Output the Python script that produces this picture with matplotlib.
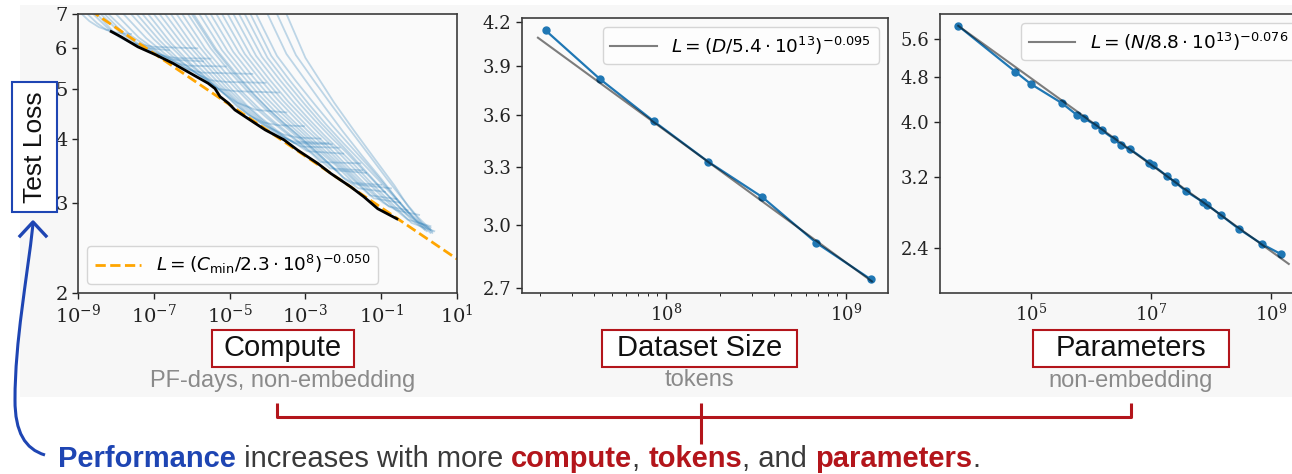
import numpy as np
import matplotlib as mpl
mpl.use('Agg')
import matplotlib.pyplot as plt
from matplotlib import patches, ticker
from matplotlib.path import Path
from matplotlib.text import Annotation

plt.rc('font', family='DejaVu Serif', size=13)
plt.rc('mathtext', fontset='dejavusans')

W, H = 1292, 474
BLUE = '#1f77b4'
RED = '#b3151b'
NAVY = '#1e45b3'
SANS = 'Liberation Sans'

# ---- Compute panel: learning curves (log10 PF-days, test loss) ----
curves_logc = [
    [-8.9, -8.7, -8.45, -8.2],
    [-8.75, -8.5, -8.25, -8.0, -7.6],
    [-8.6, -8.2, -7.9, -7.6, -7.0, -5.85],
    [-8.5, -8.1, -7.7, -7.3, -6.6],
    [-8.4, -7.9, -7.4, -7.0, -6.6, -6.36, -5.5],
    [-8.3, -7.8, -7.3, -6.9, -6.5, -5.7],
    [-8.2, -7.6, -7.1, -6.7, -6.35, -6.1, -5.1],
    [-8.0, -7.4, -6.9, -6.5, -6.1, -5.75, -4.4],
    [-7.8, -7.2, -6.7, -6.2, -5.8, -5.5, -5.1, -4.05],
    [-7.6, -7.0, -6.5, -6.0, -5.6, -5.3, -4.85, -3.7],
    [-7.45, -6.85, -6.35, -5.9, -5.5, -5.15, -4.8, -4.3, -3.5],
    [-7.3, -6.7, -6.2, -5.7, -5.3, -4.9, -4.5, -4.1, -3.74, -3.04],
    [-7.15, -6.55, -6.05, -5.6, -5.2, -4.8, -4.4, -4.0, -3.6, -3.2, -2.6],
    [-7.0, -6.4, -5.9, -5.4, -5.0, -4.6, -4.2, -3.8, -3.6, -3.3, -2.4],
    [-6.85, -6.25, -5.75, -5.25, -4.85, -4.45, -4.05, -3.65, -3.3, -2.3],
    [-6.7, -6.1, -5.6, -5.1, -4.7, -4.3, -3.9, -3.5, -3.1, -2.1],
    [-6.55, -5.95, -5.45, -4.95, -4.55, -4.15, -3.75, -3.35, -2.95, -2.0],
    [-6.4, -5.8, -5.3, -4.8, -4.4, -4.0, -3.6, -3.2, -2.8, -2.6, -1.55],
    [-6.25, -5.65, -5.15, -4.65, -4.25, -3.85, -3.45, -3.05, -2.65, -2.35, -1.5],
    [-6.1, -5.5, -5.0, -4.5, -4.1, -3.7, -3.3, -2.9, -2.5, -2.2, -1.4],
    [-6.0, -5.4, -4.9, -4.4, -4.0, -3.6, -3.2, -2.8, -2.4, -2.0, -1.75, -1.0],
    [-5.95, -5.35, -4.85, -4.35, -3.95, -3.55, -3.15, -2.75, -2.35, -1.95, -1.6, -0.9],
    [-5.8, -5.2, -4.7, -4.2, -3.8, -3.4, -3.0, -2.6, -2.2, -1.7, -0.74],
    [-5.65, -5.05, -4.55, -4.05, -3.65, -3.25, -2.85, -2.45, -2.05, -1.65, -1.3, -0.6],
    [-5.5, -4.9, -4.4, -3.9, -3.5, -3.1, -2.7, -2.3, -1.9, -1.5, -1.2, -0.5],
    [-5.35, -4.75, -4.25, -3.75, -3.35, -2.95, -2.55, -2.15, -1.75, -1.35, -0.95, -0.6, 0.0],
    [-5.2, -4.6, -4.1, -3.6, -3.2, -2.8, -2.4, -2.0, -1.6, -1.2, -0.8, -0.3],
    [-5.05, -4.45, -3.95, -3.45, -3.05, -2.65, -2.25, -1.85, -1.45, -1.05, -0.65, -0.3, 0.3],
    [-4.9, -4.3, -3.8, -3.3, -2.9, -2.5, -2.1, -1.7, -1.3, -0.9, -0.5, -0.2, 0.4],
    [-4.75, -4.15, -3.65, -3.15, -2.75, -2.35, -1.95, -1.55, -1.15, -0.75, -0.35, 0.0, 0.3],
    [-4.6, -4.0, -3.5, -3.0, -2.6, -2.2, -1.8, -1.4, -1.0, -0.6, -0.2, 0.2],
    [-4.45, -3.9, -3.4, -2.9, -2.45, -2.0, -1.55, -1.1, -0.7, -0.3, 0.1, 0.35],
    [-4.3, -3.75, -3.25, -2.75, -2.3, -1.85, -1.4, -0.95, -0.5, -0.1, 0.3],
    [-4.0, -3.5, -3.0, -2.5, -2.0, -1.5, -1.0, -0.6, -0.2, 0.15],
    [-3.75, -3.25, -2.8, -2.3, -1.8, -1.3, -0.85, -0.45, -0.05, 0.3],
    [-3.5, -3.0, -2.75, -2.24, -1.71, -1.18, -0.65, -0.29, 0.1, 0.35],
]
curves_loss = [
    [7.0, 6.78, 6.6, 6.5],
    [7.0, 6.72, 6.52, 6.44, 6.40],
    [7.0, 6.55, 6.30, 6.15, 6.04, 6.0],
    [7.0, 6.5, 6.2, 6.02, 5.95],
    [7.0, 6.45, 6.08, 5.88, 5.77, 5.74, 5.73],
    [7.0, 6.42, 6.05, 5.85, 5.7, 5.66],
    [7.0, 6.35, 6.0, 5.76, 5.6, 5.55, 5.53],
    [7.0, 6.3, 5.92, 5.66, 5.46, 5.38, 5.35],
    [7.0, 6.28, 5.85, 5.52, 5.32, 5.2, 5.16, 5.14],
    [7.0, 6.25, 5.78, 5.45, 5.2, 5.0, 4.95, 4.92],
    [7.0, 6.22, 5.72, 5.38, 5.12, 4.9, 4.7, 4.55, 4.5],
    [7.0, 6.2, 5.7, 5.3, 5.0, 4.72, 4.45, 4.3, 4.25, 4.23],
    [7.0, 6.15, 5.62, 5.25, 4.95, 4.62, 4.4, 4.22, 4.08, 4.02, 4.0],
    [7.0, 6.15, 5.6, 5.15, 4.85, 4.55, 4.3, 4.1, 4.02, 3.95, 3.92],
    [7.0, 6.12, 5.58, 5.1, 4.78, 4.5, 4.26, 4.06, 3.92, 3.9],
    [7.0, 6.1, 5.55, 5.05, 4.72, 4.45, 4.2, 4.0, 3.86, 3.84],
    [7.0, 6.05, 5.5, 5.0, 4.65, 4.38, 4.15, 3.95, 3.78, 3.74],
    [7.0, 6.05, 5.45, 4.98, 4.65, 4.38, 4.15, 3.94, 3.72, 3.6, 3.58],
    [7.0, 6.0, 5.42, 4.92, 4.6, 4.33, 4.1, 3.88, 3.66, 3.5, 3.47],
    [7.0, 6.0, 5.4, 4.92, 4.6, 4.32, 4.08, 3.85, 3.62, 3.47, 3.43],
    [7.0, 5.98, 5.38, 4.9, 4.58, 4.3, 4.06, 3.82, 3.59, 3.36, 3.28, 3.25],
    [7.0, 5.97, 5.38, 4.88, 4.55, 4.28, 4.04, 3.8, 3.56, 3.33, 3.2, 3.15],
    [7.0, 5.95, 5.35, 4.85, 4.52, 4.25, 4.0, 3.76, 3.55, 3.26, 3.2],
    [7.0, 5.92, 5.32, 4.82, 4.5, 4.22, 3.96, 3.72, 3.5, 3.28, 3.1, 3.05],
    [7.0, 5.9, 5.3, 4.8, 4.46, 4.18, 3.92, 3.68, 3.45, 3.22, 3.06, 3.0],
    [7.0, 5.88, 5.28, 4.78, 4.45, 4.15, 3.9, 3.64, 3.4, 3.18, 3.0, 2.9, 2.84],
    [7.0, 5.85, 5.25, 4.75, 4.42, 4.12, 3.86, 3.6, 3.36, 3.14, 2.95, 2.9],
    [7.0, 5.82, 5.22, 4.72, 4.4, 4.1, 3.84, 3.58, 3.34, 3.12, 2.92, 2.78, 2.7],
    [7.0, 5.8, 5.2, 4.7, 4.36, 4.06, 3.8, 3.55, 3.3, 3.08, 2.88, 2.74, 2.64],
    [7.0, 5.78, 5.18, 4.68, 4.34, 4.04, 3.78, 3.52, 3.28, 3.06, 2.86, 2.74, 2.68],
    [7.0, 5.75, 5.15, 4.65, 4.3, 4.0, 3.72, 3.45, 3.2, 2.98, 2.78, 2.64],
    [7.0, 5.8, 5.18, 4.66, 4.26, 3.92, 3.62, 3.34, 3.1, 2.88, 2.72, 2.62],
    [7.0, 5.8, 5.18, 4.66, 4.25, 3.9, 3.58, 3.28, 3.0, 2.78, 2.62],
    [7.0, 5.85, 5.2, 4.62, 4.12, 3.7, 3.34, 3.06, 2.82, 2.66],
    [7.0, 5.82, 5.22, 4.64, 4.14, 3.7, 3.34, 3.06, 2.82, 2.66],
    [7.0, 5.75, 5.38, 4.7, 4.14, 3.66, 3.24, 2.95, 2.72, 2.64],
]

# compute-efficient frontier (black)
frontier_c = [7.5e-9, 1.36e-8, 3.8e-8, 1.17e-7, 3.2e-7, 7.9e-7, 2.7e-6, 4.1e-6,
              5.6e-6, 9.3e-6, 1.38e-5, 4.4e-5, 8.7e-5, 2.7e-4, 6.2e-4, 2.1e-3,
              4.7e-3, 1.58e-2, 3.5e-2, 8.1e-2, 0.26]
frontier_loss = [6.47, 6.32, 6.04, 5.82, 5.61, 5.40, 5.13, 5.01, 4.83, 4.69,
                 4.55, 4.30, 4.16, 3.98, 3.80, 3.58, 3.42, 3.22, 3.08, 2.92, 2.79]

# power-law fit endpoints
fit_c = [1e-9, 1e1]
fit_c_loss = [7.39, 2.33]

# ---- Dataset size panel ----
tokens = [2.15e7, 4.3e7, 8.6e7, 1.72e8, 3.44e8, 6.88e8, 1.376e9]
loss_tokens = [4.14, 3.82, 3.56, 3.33, 3.14, 2.91, 2.74]
fit_d = [1.95e7, 1.4e9]
fit_d_loss = [4.09, 2.73]

# ---- Parameters panel ----
params = [6.2e3, 5.5e4, 1.0e5, 3.3e5, 6.0e5, 7.7e5, 1.18e6, 1.52e6, 2.4e6, 3.2e6,
          4.6e6, 9.5e6, 1.08e7, 1.9e7, 2.5e7, 3.9e7, 7.5e7, 8.8e7, 1.5e8, 3.0e8,
          7.1e8, 1.5e9]
loss_params = [5.91, 4.91, 4.67, 4.32, 4.11, 4.06, 3.96, 3.87, 3.74, 3.64, 3.58,
               3.39, 3.36, 3.21, 3.14, 3.02, 2.89, 2.86, 2.74, 2.59, 2.44, 2.34]
fit_n = [6.2e3, 2.0e9]
fit_n_loss = [5.91, 2.25]


def fx(x):
    return x / W


def fy(y):
    return 1 - y / H


def style_axes(ax):
    ax.set_facecolor('#fafafa')
    for s in ax.spines.values():
        s.set_color('#3c3c3c')
        s.set_linewidth(1.2)
    ax.tick_params(colors='#222222', labelsize=13, length=4, width=1)
    ax.yaxis.set_minor_locator(ticker.NullLocator())
    ax.yaxis.set_minor_formatter(ticker.NullFormatter())


fig = plt.figure(figsize=(W / 100, H / 100), dpi=100)

# light grey panel behind the plots
bg = patches.Rectangle((fx(20), fy(397)), fx(W - 20), 392 / H,
                       transform=fig.transFigure, facecolor='#f7f7f7',
                       edgecolor='none', zorder=-10)
fig.add_artist(bg)

# --- compute panel ---
ax1 = fig.add_axes([fx(78), fy(293), fx(379), 279 / H])
for lc, ll in zip(curves_logc, curves_loss):
    ax1.plot(np.power(10.0, lc), ll, color=BLUE, alpha=0.28, lw=1.3)
ax1.plot(fit_c, fit_c_loss, color='orange', ls='--', lw=2,
         label=r'$L = (C_{\rm min}/2.3\cdot 10^{8})^{-0.050}$')
ax1.plot(frontier_c, frontier_loss, color='k', lw=2)
ax1.set_xscale('log')
ax1.set_yscale('log')
ax1.set_xlim(1e-9, 1e1)
ax1.set_ylim(2, 7)
ax1.set_xticks([1e-9, 1e-7, 1e-5, 1e-3, 1e-1, 1e1])
ax1.xaxis.set_minor_locator(ticker.NullLocator())
ax1.set_yticks([2, 3, 4, 5, 6, 7])
ax1.yaxis.set_major_formatter(ticker.FormatStrFormatter('%d'))
style_axes(ax1)
ax1.tick_params(labelsize=14)
ax1.legend(loc='lower left', fontsize=13.3, handlelength=2.5)

# --- dataset panel ---
ax2 = fig.add_axes([fx(522), fy(293), fx(366), 275 / H])
ax2.plot(tokens, loss_tokens, color=BLUE, marker='o', ms=5, lw=1.6)
ax2.plot(fit_d, fit_d_loss, color='k', alpha=0.5, lw=1.5,
         label=r'$L = (D/5.4\cdot 10^{13})^{-0.095}$')
ax2.set_xscale('log')
ax2.set_yscale('log')
ax2.set_xlim(1.59e7, 1.72e9)
ax2.set_ylim(2.678, 4.226)
ax2.set_yticks([2.7, 3.0, 3.3, 3.6, 3.9, 4.2])
ax2.yaxis.set_major_formatter(ticker.FormatStrFormatter('%.1f'))
style_axes(ax2)
ax2.legend(loc='upper right', fontsize=13.3, handlelength=2.5)

# --- parameters panel (runs past the right edge, as in the source) ---
ax3 = fig.add_axes([fx(940), fy(293), fx(365), 279 / H])
ax3.plot(params, loss_params, color=BLUE, marker='o', ms=5, lw=1.6)
ax3.plot(fit_n, fit_n_loss, color='k', alpha=0.5, lw=1.5,
         label=r'$L = (N/8.8\cdot 10^{13})^{-0.076}$')
ax3.set_xscale('log')
ax3.set_yscale('log')
ax3.set_xlim(3.08e3, 3.73e9)
ax3.set_ylim(2.0, 6.2)
ax3.set_xticks([1e5, 1e7, 1e9])
ax3.xaxis.set_minor_locator(ticker.NullLocator())
ax3.set_yticks([2.4, 3.2, 4.0, 4.8, 5.6])
ax3.yaxis.set_major_formatter(ticker.FormatStrFormatter('%.1f'))
style_axes(ax3)
ax3.legend(loc='upper right', fontsize=13.3, handlelength=2.5)

# --- "Test Loss" box ---
fig.add_artist(patches.Rectangle((fx(12), fy(212)), fx(45), 130 / H,
                                 transform=fig.transFigure, facecolor='white',
                                 edgecolor=NAVY, lw=1.5))
fig.text(fx(35), fy(147), 'Test Loss', rotation=90, ha='center', va='center',
         family=SANS, fontsize=19, color='#111111')

# --- axis name boxes ---
labels = ['Compute', 'Dataset Size', 'Parameters']
sublabels = ['PF-days, non-embedding', 'tokens', 'non-embedding']
box_left = [212, 602, 1033]
box_right = [354, 797, 1229]
for name, sub, x0, x1 in zip(labels, sublabels, box_left, box_right):
    fig.add_artist(patches.Rectangle((fx(x0), fy(367)), fx(x1 - x0), 37 / H,
                                     transform=fig.transFigure, facecolor='white',
                                     edgecolor=RED, lw=1.5))
    xc = fx((x0 + x1) / 2)
    fig.text(xc, fy(356), name, ha='center', va='baseline', family=SANS,
             fontsize=21, color='#111111')
    fig.text(xc, fy(386.5), sub, ha='center', va='baseline', family=SANS,
             fontsize=17, color='#8a8a8a')

# --- red bracket ---
br = dict(color=RED, lw=2.2, solid_capstyle='butt', transform=fig.transFigure)
fig.add_artist(plt.Line2D([fx(277), fx(277), fx(1131), fx(1131)],
                          [fy(403), fy(417), fy(417), fy(403)], **br))
fig.add_artist(plt.Line2D([fx(701), fx(701)], [fy(403), fy(444)], **br))

# --- blue arrow from the sentence up to "Test Loss" ---
verts = [(45, 455), (25, 449), (15, 432), (15, 400),
         (15, 340), (27, 280), (33, 224)]
codes = [Path.MOVETO, Path.CURVE4, Path.CURVE4, Path.CURVE4,
         Path.CURVE4, Path.CURVE4, Path.CURVE4]
arrow = Path([(fx(a), fy(b)) for a, b in verts], codes)
fig.add_artist(patches.PathPatch(arrow, facecolor='none', edgecolor=NAVY,
                                 lw=2.2, transform=fig.transFigure))
fig.add_artist(plt.Line2D([fx(20), fx(33), fx(46)], [fy(236), fy(222), fy(236)],
                          color=NAVY, lw=2.4, transform=fig.transFigure))

# --- bottom sentence, coloured pieces ---
pieces = ['Performance', ' increases with more ', 'compute', ', ', 'tokens',
          ', and ', 'parameters', '.']
piece_colors = [NAVY, '#3a3a3a', RED, '#3a3a3a', RED, '#3a3a3a', RED, '#3a3a3a']
piece_weights = ['bold', 'normal', 'bold', 'normal', 'bold', 'normal', 'bold', 'normal']
prev = fig.text(fx(58), fy(466.7), pieces[0], ha='left', va='baseline',
                family=SANS, fontsize=21, color=piece_colors[0],
                weight=piece_weights[0])
for txt, col, wt in zip(pieces[1:], piece_colors[1:], piece_weights[1:]):
    ann = Annotation(txt, xy=(1, 0), xycoords=prev, ha='left', va='bottom',
                     family=SANS, fontsize=21, color=col, weight=wt)
    fig.add_artist(ann)
    prev = ann

fig.savefig('out.png', dpi=100)
